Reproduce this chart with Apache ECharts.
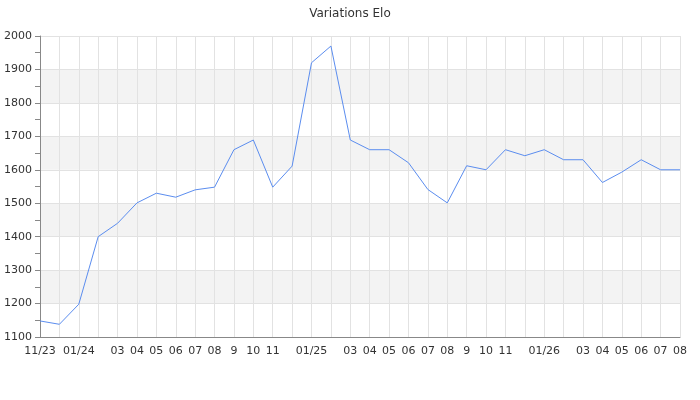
<!DOCTYPE html>
<html>
<head>
<meta charset="utf-8">
<script src="https://cdn.jsdelivr.net/npm/echarts@6/dist/echarts.min.js"></script>
<style>html,body{margin:0;padding:0;background:#fff}#c{width:700px;height:400px}</style>
</head>
<body>
<div id="c"></div>
<script>
var months = ['11/23','12/23','01/24','02/24','03/24','04/24','05/24','06/24','07/24','08/24','09/24','10/24','11/24','12/24','01/25','02/25','03/25','04/25','05/25','06/25','07/25','08/25','09/25','10/25','11/25','12/25','01/26','02/26','03/26','04/26','05/26','06/26','07/26','08/26'];
var tickLabels = ['11/23','','01/24','','03','04','05','06','07','08','9','10','11','','01/25','','03','04','05','06','07','08','9','10','11','','01/26','','03','04','05','06','07','08'];
var elo = [1148,1138,1198,1400,1440,1501,1530,1518,1540,1548,1660,1689,1548,1611,1920,1970,1689,1660,1660,1621,1541,1501,1612,1600,1660,1642,1660,1630,1630,1562,1593,1630,1600,1600];
var yTicks = {min:1100, max:2000, step:100};

var chart = echarts.init(document.getElementById('c'), null, {renderer:'canvas'});
chart.setOption({
  animation:false,
  title:{text:'Variations Elo', left:'center', top:3, textStyle:{fontFamily:'DejaVu Sans', fontSize:12, fontWeight:'normal', color:'#333'}},
  grid:{left:40, right:20, top:36, bottom:63, containLabel:false},
  xAxis:{
    type:'category', data:months, boundaryGap:false,
    axisLine:{show:true, lineStyle:{color:'#888', width:1}},
    axisTick:{show:false},
    axisLabel:{interval:0, margin:9, fontFamily:'DejaVu Sans', fontSize:11, color:'#333',
      formatter:function(v, i){return tickLabels[i];}},
    splitLine:{show:true, interval:0, lineStyle:{color:'#e2e2e2', width:1}}
  },
  yAxis:{
    type:'value', min:yTicks.min, max:yTicks.max, interval:yTicks.step,
    axisLine:{show:true, lineStyle:{color:'#888', width:1}},
    axisTick:{show:true, length:5, lineStyle:{color:'#888'}},
    minorTick:{show:true, splitNumber:2, length:5, lineStyle:{color:'#888'}},
    axisLabel:{margin:8, fontFamily:'DejaVu Sans', fontSize:11, color:'#333',
      formatter:function(v){return String(v);}},
    splitLine:{show:true, lineStyle:{color:'#e2e2e2', width:1}},
    splitArea:{show:true, areaStyle:{color:['#ffffff','#f3f3f3']}}
  },
  series:[{
    type:'line', data:elo, showSymbol:false, symbol:'none',
    lineStyle:{color:'#5b8def', width:1}
  }]
});
</script>
</body>
</html>
